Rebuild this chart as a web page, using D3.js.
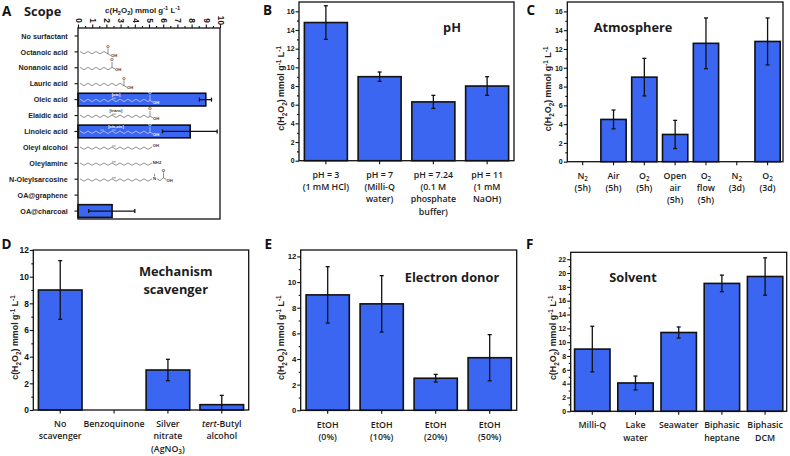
<!DOCTYPE html>
<html><head><meta charset="utf-8">
<script src="https://cdn.jsdelivr.net/npm/d3@7"></script>
<style>
html,body{margin:0;padding:0;background:#fff}
svg{display:block}
text{fill:#111}
.tick-l{font:bold 8.4px "Liberation Sans",Arial,sans-serif}
.cat{font:600 8.8px "Open Sans",sans-serif;fill:#1c1c1c}
.ttl{font:700 12.8px "Open Sans",sans-serif;fill:#1c1c1c}
.let{font:700 13.5px "Open Sans",sans-serif;fill:#111}
.yl{font:bold 7.9px "Liberation Sans",Arial,sans-serif;fill:#222}
.yr{font:bold 8.9px "Liberation Sans",Arial,sans-serif;fill:#222}
.mol{font:bold 4.2px "Liberation Sans",Arial,sans-serif}
</style></head><body>
<div id="c"></div>
<script>
// Panel A
const aCats=["No surfactant","Octanoic acid","Nonanoic acid","Lauric acid","Oleic acid","Elaidic acid","Linoleic acid","Oleyl alcohol","Oleylamine","N-Oleylsarcosine","OA@graphene","OA@charcoal"];
const aVals=[0,0,0,0,9,0,7.9,0,0,0,0,2.4];
const aLow=[null,null,null,null,8.55,null,5.95,null,null,null,null,0.75];
const aHigh=[null,null,null,null,9.4,null,9.8,null,null,null,null,4];
// Chain bonds, head group, double-bond positions and stereo tag of each drawn molecule
const molBonds=[null,7,8,11,17.5,17.5,17.5,18,18,18,null,null];
const molHead=[null,"acid","acid","acid","acid","acid","acid","OH","NH2","sarc",null,null];
const molDouble=[[],[],[],[],[8],[8],[5,8],[8],[8],[8],[],[]];
const molTag=[null,null,null,null,"[cis]","[trans]","[cis,cis]",null,null,null,null,null];
// Panel B
const bCats=[["pH = 3","(1 mM HCl)"],["pH = 7","(Milli-Q","water)"],["pH = 7.24","(0.1 M","phosphate","buffer)"],["pH = 11","(1 mM","NaOH)"]];
const bVals=[14.8,9,6.3,8];
const bLow=[13,8.5,5.6,7];
const bHigh=[16.6,9.5,7,9];
// Panel C
const cCats=[["N_2","(5h)"],["Air","(5h)"],["O_2","(5h)"],["Open","air","(5h)"],["O_2","flow","(5h)"],["N_2","(3d)"],["O_2","(3d)"]];
const cVals=[0,4.5,9,2.9,12.6,0,12.8];
const cLow=[null,3.5,7,1.4,9.9,null,10.3];
const cHigh=[null,5.5,11,4.4,15.3,null,15.3];
// Panel D
const dCats=[["No","scavenger"],["Benzoquinone"],["Silver","nitrate","(AgNO_3)"],["*tert*-Butyl","alcohol"]];
const dVals=[9,0,3,0.4];
const dLow=[6.8,null,2.2,0];
const dHigh=[11.2,null,3.8,1.1];
// Panel E
const eCats=[["EtOH","(0%)"],["EtOH","(10%)"],["EtOH","(20%)"],["EtOH","(50%)"]];
const eVals=[9,8.3,2.5,4.1];
const eLow=[6.8,6.1,2.2,2.3];
const eHigh=[11.2,10.5,2.8,5.9];
// Panel F
const fCats=[["Milli-Q"],["Lake","water"],["Seawater"],["Biphasic","heptane"],["Biphasic","DCM"]];
const fVals=[9,4.1,11.4,18.5,19.5];
const fLow=[5.7,3.1,10.6,17.3,16.8];
const fHigh=[12.3,5.1,12.2,19.7,22.2];

const BLUE="#3b66f2",INK="#111";
const svg=d3.select("#c").append("svg").attr("width",790).attr("height",456);

// tokens: _x subscript, ^x superscript, *x* italic
function rich(sel,str,small){
  const parts=str.split(/(_\S|\^-?\d|\*[^*]+\*)/).filter(s=>s!=="");
  let shift=0;
  parts.forEach(p=>{
    const t=sel.append("tspan");
    let dy=-shift; shift=0;
    if(p[0]==="_"){shift=small*.28;t.text(p.slice(1)).style("font-size",(small*.72)+"px");dy+=shift;}
    else if(p[0]==="^"){shift=-small*.38;t.text(p.slice(1)).style("font-size",(small*.72)+"px");dy+=shift;}
    else if(p[0]==="*"){t.text(p.slice(1,-1)).style("font-style","italic");}
    else t.text(p);
    if(dy)t.attr("dy",dy);
  });
}
const YLABEL="c(H_2O_2) mmol g^-1 L^-1";

function styleAxis(g){
  g.selectAll("path.domain").remove();
  g.selectAll("line").attr("stroke",INK).attr("stroke-width",1.1);
}

function vPanel(o){
  const g=svg.append("g");
  const x=d3.scaleBand().domain(d3.range(o.cats.length)).range([o.l,o.r]).paddingInner(o.pad).paddingOuter(o.pad/2);
  const y=d3.scaleLinear().domain([0,o.ymax]).range([o.b,o.t]);
  const minor=d3.range(o.step/2,o.ymax,o.step);
  g.append("g").attr("transform",`translate(${o.l},0)`).call(d3.axisLeft(y).tickValues(minor).tickSize(2).tickFormat("")).call(styleAxis);
  const ya=g.append("g").attr("transform",`translate(${o.l},0)`).call(d3.axisLeft(y).tickValues(d3.range(0,o.ymax+.001,o.step)).tickSize(3.5).tickPadding(1).tickFormat(d3.format("d"))).call(styleAxis);
  ya.selectAll("text").attr("class","tick-l").attr("fill",INK).style("font-size",o.tickFs+"px");
  g.append("g").attr("transform",`translate(0,${o.b})`).call(d3.axisBottom(x).tickSize(3.5).tickFormat("")).call(styleAxis);
  g.selectAll(".bar").data(o.vals).join("rect").attr("class","bar")
    .attr("x",(d,i)=>x(i)).attr("width",x.bandwidth())
    .attr("y",d=>y(d)).attr("height",d=>o.b-y(d))
    .attr("fill",BLUE).attr("stroke",INK).attr("stroke-width",1.6);
  g.append("rect").attr("x",o.l).attr("y",o.t).attr("width",o.r-o.l).attr("height",o.b-o.t).attr("fill","none").attr("stroke",INK).attr("stroke-width",1.3);
  o.vals.forEach((v,i)=>{
    if(o.low[i]===null)return;
    const cx=x(i)+x.bandwidth()/2;
    g.append("line").attr("x1",cx).attr("x2",cx).attr("y1",y(o.low[i])).attr("y2",y(o.high[i])).attr("stroke",INK).attr("stroke-width",1.3);
    [o.low[i],o.high[i]].forEach(e=>{
      if(e<=0)return;
      g.append("line").attr("x1",cx-2).attr("x2",cx+2).attr("y1",y(e)).attr("y2",y(e)).attr("stroke",INK).attr("stroke-width",1.3);
    });
  });
  o.cats.forEach((lines,i)=>{
    lines.forEach((s,j)=>{
      const t=g.append("text").attr("class","cat").attr("text-anchor","middle")
        .attr("x",x(i)+x.bandwidth()/2).attr("y",o.b+o.labY+j*12.3);
      rich(t,s,8.8);
    });
  });
  const yl=g.append("text").attr("class","yr").attr("text-anchor","middle")
    .attr("transform",`translate(${o.ylx},${(o.t+o.b)/2+(o.yld||0)}) rotate(-90)`);
  rich(yl,YLABEL,8.9);
  o.title.forEach((s,j)=>g.append("text").attr("class","ttl").attr("text-anchor","middle").attr("x",o.tx).attr("y",o.ty+j*18.3).text(s));
  g.append("text").attr("class","let").attr("x",o.lx).attr("y",o.ly).text(o.letter);
}

vPanel({letter:"B",lx:263,ly:15,l:299,r:514,t:2,b:160.7,ymax:17,step:2,pad:.2,tickFs:6.9,cats:bCats,vals:bVals,low:bLow,high:bHigh,ylx:284,yld:7,title:["pH"],tx:452,ty:32,labY:17});
vPanel({letter:"C",lx:526.5,ly:15,l:567.3,r:783,t:2,b:161.7,ymax:17,step:2,pad:.18,tickFs:7.1,cats:cCats,vals:cVals,low:cLow,high:cHigh,ylx:551,yld:7,title:["Atmosphere"],tx:633,ty:32,labY:17});
vPanel({letter:"D",lx:1.5,ly:249,l:33.3,r:248.7,t:250,b:410,ymax:12,step:2,pad:.19,tickFs:8.4,cats:dCats,vals:dVals,low:dLow,high:dHigh,ylx:18,yld:7.5,title:["Mechanism","scavenger"],tx:175.7,ty:275.7,labY:17});
vPanel({letter:"E",lx:264.5,ly:249,l:300.7,r:516.7,t:250,b:410.3,ymax:12.5,step:2,pad:.2,tickFs:7.7,cats:eCats,vals:eVals,low:eLow,high:eHigh,ylx:284,yld:7.5,title:["Electron donor"],tx:452,ty:281.7,labY:17.4});
vPanel({letter:"F",lx:526,ly:249,l:570.7,r:786.7,t:252.3,b:411.3,ymax:23,step:2,pad:.18,tickFs:6.9,cats:fCats,vals:fVals,low:fLow,high:fHigh,ylx:556,yld:6,title:["Solvent"],tx:633,ty:281.7,labY:17});

// Panel A
(function(){
  const L=78,R=220,T=28,B=219;
  const g=svg.append("g");
  const x=d3.scaleLinear().domain([0,10]).range([L,R]);
  const y=d3.scaleBand().domain(d3.range(aCats.length)).range([T,B]).paddingInner(.2).paddingOuter(.1);
  const bond=d3.scaleLinear().domain([0,1]).range([80,84]);
  const cy=i=>y(i)+y.bandwidth()/2;
  g.append("g").attr("transform",`translate(${L},0)`).call(d3.axisLeft(y).tickSize(3.5).tickFormat("")).call(styleAxis);
  g.append("g").attr("transform",`translate(0,${T})`).call(d3.axisTop(x).tickValues(d3.range(.5,10,1)).tickSize(2).tickFormat("")).call(styleAxis);
  const xa=g.append("g").attr("transform",`translate(0,${T})`).call(d3.axisTop(x).tickValues(d3.range(0,11)).tickSize(3.5).tickFormat(d3.format("d"))).call(styleAxis);
  xa.selectAll("text").attr("class","tick-l").attr("fill",INK).attr("text-anchor","middle")
    .attr("transform","translate(0,-7.5) rotate(90)").attr("x",0).attr("y",0).attr("dy",".32em");
  g.selectAll(".bar").data(aVals).join("rect").attr("class","bar")
    .attr("x",L).attr("y",(d,i)=>y(i)).attr("height",y.bandwidth())
    .attr("width",d=>x(d)-L).attr("fill",BLUE).attr("stroke",d=>d?INK:"none").attr("stroke-width",1.6);
  g.append("rect").attr("x",L).attr("y",T).attr("width",R-L).attr("height",B-T).attr("fill","none").attr("stroke",INK).attr("stroke-width",1.3);
  const line=d3.line();
  molBonds.forEach((n,i)=>{
    if(n===null)return;
    const c=aVals[i]>0?"#fff":"#333";
    const base=cy(i)+0.8;
    const whole=Math.floor(n);
    const pts=d3.range(whole+1).map(k=>[bond(k),base+(k%2?1.2:-1.2)]);
    if(n>whole)pts.push([bond(n),base]);
    const m=g.append("g");
    m.append("path").attr("d",line(pts)).attr("fill","none").attr("stroke",c).attr("stroke-width",.55);
    molDouble[i].forEach(k=>{
      m.append("line").attr("x1",bond(k)).attr("x2",bond(k+1)).attr("y1",base-2.2).attr("y2",base-2.2).attr("stroke",c).attr("stroke-width",.5);
    });
    const end=pts[pts.length-1];
    const label=(s,dx,dy,anc)=>m.append("text").attr("class","mol").attr("x",end[0]+dx).attr("y",end[1]+dy).attr("text-anchor",anc||"start").style("fill",c).text(s);
    const head=molHead[i];
    const bondLine=(x1,y1,x2,y2)=>m.append("line").attr("x1",x1).attr("y1",y1).attr("x2",x2).attr("y2",y2).attr("stroke",c).attr("stroke-width",.55);
    if(head==="acid"){
      bondLine(end[0],end[1],end[0],end[1]-5.5);
      bondLine(end[0],end[1],end[0]+3,end[1]+1.6);
      label("O",0,-6,"middle");
      label("OH",3,3.4);
    } else if(head==="OH"){label("OH",.8,.4);}
    else if(head==="NH2"){label("NH",.8,.8);label("2",7,1.6);}
    else {
      label("N",1,1.4);
      const nx=end[0]+5;
      m.append("path").attr("d",line([[nx,end[1]],[nx+3,end[1]+1.8],[nx+6.5,end[1]-1]])).attr("fill","none").attr("stroke",c).attr("stroke-width",.55);
      bondLine(nx+6.5,end[1]-1,nx+6.5,end[1]-6.5);
      bondLine(nx+6.5,end[1]-1,nx+9.5,end[1]+1);
      bondLine(end[0]+2.5,end[1]-2.4,end[0]+2.5,end[1]-5);
      label("O",nx-end[0]+6.5,-7,"middle");
      label("OH",nx-end[0]+9.5,2.8);
    }
    if(molTag[i]) m.append("text").attr("class","mol").attr("x",bond(9)).attr("y",base-4.2).attr("text-anchor","middle").style("fill",c).text(molTag[i]);
  });
  aVals.forEach((v,i)=>{
    if(aLow[i]===null)return;
    g.append("line").attr("x1",x(aLow[i])).attr("x2",x(aHigh[i])).attr("y1",cy(i)).attr("y2",cy(i)).attr("stroke",INK).attr("stroke-width",1.3);
    [aLow[i],aHigh[i]].forEach(e=>g.append("line").attr("x1",x(e)).attr("x2",x(e)).attr("y1",cy(i)-2).attr("y2",cy(i)+2).attr("stroke",INK).attr("stroke-width",1.3));
  });
  aCats.forEach((s,i)=>g.append("text").attr("text-anchor","end").attr("x",67.7).attr("y",cy(i)+2.7)
    .style("font",'bold 7.2px "Liberation Sans",Arial,sans-serif').style("fill","#222").text(s));
  const t=g.append("text").attr("class","yl").attr("text-anchor","middle").attr("x",142.7).attr("y",13);
  rich(t,YLABEL,7.9);
  g.append("text").attr("class","ttl").attr("x",24).attr("y",15.5).text("Scope");
  g.append("text").attr("class","let").attr("x",2).attr("y",15.5).text("A");
})();
</script></body></html>
